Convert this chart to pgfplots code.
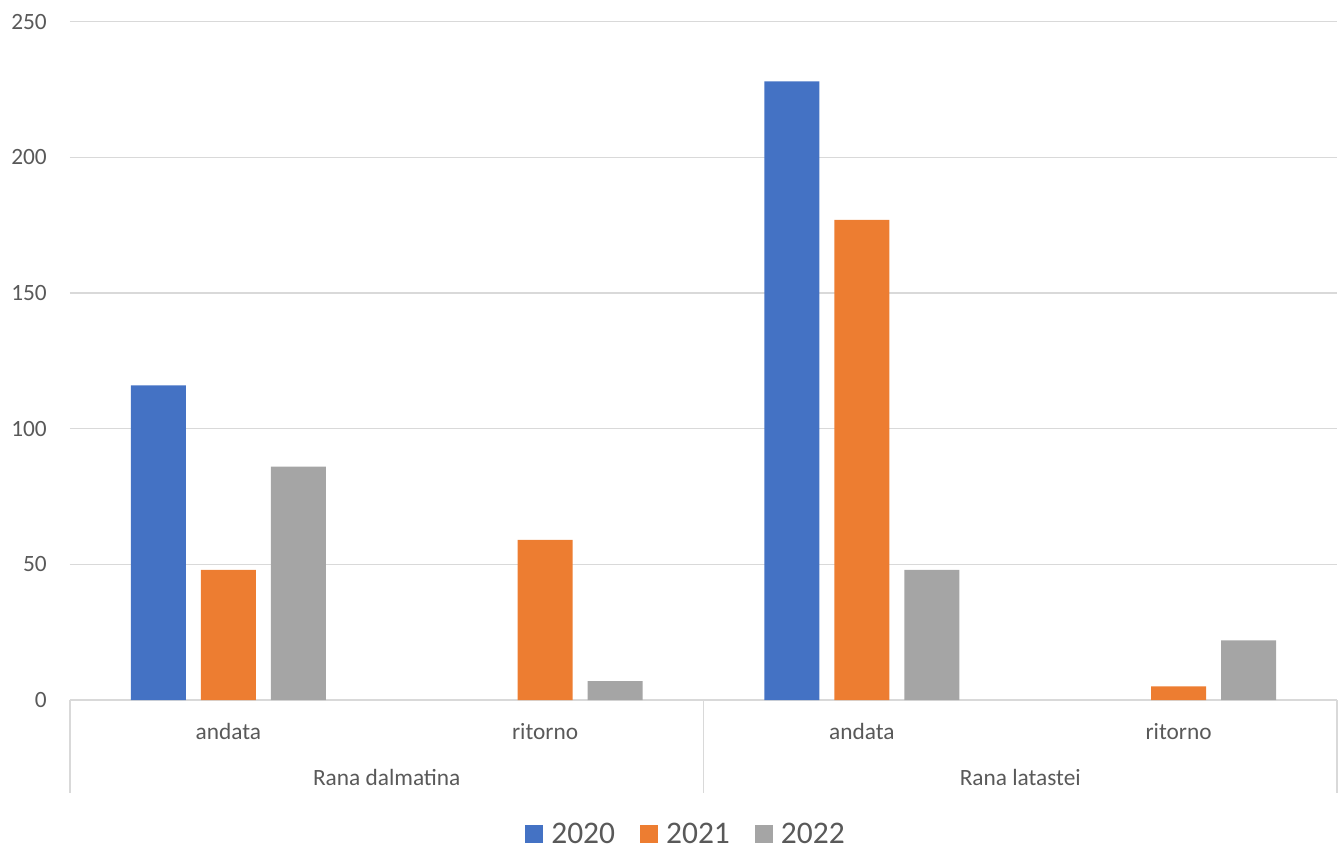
\documentclass[border=0pt]{standalone}
\usepackage{fontspec}
\setmainfont{Carlito}
\usepackage{pgfplots}
\pgfplotsset{compat=1.18}
\definecolor{cA}{HTML}{4472C4}
\definecolor{cB}{HTML}{ED7D31}
\definecolor{cC}{HTML}{A5A5A5}
\definecolor{textgray}{HTML}{595959}
\definecolor{gridgray}{HTML}{D9D9D9}
\begin{document}
\begin{tikzpicture}
\path[use as bounding box] (-52.5pt,-111.75pt) rectangle (953.25pt,525pt);
\begin{axis}[
  at={(0pt,0pt)}, anchor=south west,
  scale only axis, width=950.25pt, height=508.7pt,
  ymin=0, ymax=250, xmin=-0.5, xmax=3.5,
  ytick={0,50,100,150,200,250},
  xtick={0,1,2,3}, xticklabels={andata,ritorno,andata,ritorno},
  ymajorgrids, grid style={color=gridgray, line width=1.1pt},
  axis line style={draw=none},
  major tick length=0pt,
  ybar=11.25pt, bar width=41.25pt,
  clip=false,
  tick label style={font=\fontsize{17.5}{21}\selectfont, text=textgray},
  /pgf/number format/assume math mode=true,
  yticklabel style={anchor=east, inner sep=0pt, xshift=-17.25pt},
  xticklabel style={anchor=base, inner sep=0pt, yshift=-29.25pt},
  legend columns=3,
  legend style={at={(0.4854,-0.1976)}, anchor=center, draw=none, fill=none,
    font=\fontsize{23.6}{28}\selectfont, text=textgray,
    nodes={inner sep=0pt},
    /tikz/every odd column/.append style={column sep=6pt},
    /tikz/every even column/.append style={column sep=18.75pt}},
  legend image code/.code={\fill[#1] (0pt,-6.75pt) rectangle (13.5pt,6.75pt);},
]
% 2020 has no value (0) for both "ritorno" categories
\addplot[fill=cA, draw=none] coordinates {(0,116) (2,228)};
\addplot[fill=cB, draw=none] coordinates {(0,48) (1,59) (2,177) (3,5)};
\addplot[fill=cC, draw=none] coordinates {(0,86) (1,7) (2,48) (3,22)};
\legend{2020,2021,2022}
\draw[gridgray, line width=1.1pt] (axis cs:-0.5,0) -- ++(0pt,-69.75pt);
\draw[gridgray, line width=1.1pt] (axis cs:1.5,0) -- ++(0pt,-69.75pt);
\draw[gridgray, line width=1.1pt] (axis cs:3.5,0) -- ++(0pt,-69.75pt);
\node[anchor=base, text=textgray, font=\fontsize{17.5}{21}\selectfont, yshift=-63.75pt] at (axis cs:0.5,0) {Rana dalmatina};
\node[anchor=base, text=textgray, font=\fontsize{17.5}{21}\selectfont, yshift=-63.75pt] at (axis cs:2.5,0) {Rana latastei};
\end{axis}
\end{tikzpicture}
\end{document}
